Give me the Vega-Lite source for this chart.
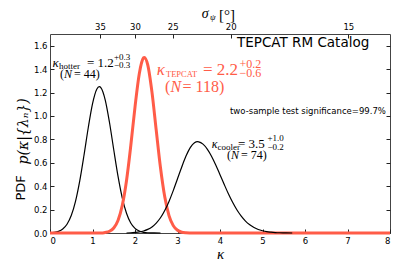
{
  "$schema": "https://vega.github.io/schema/vega-lite/v6.json",
  "width": 340,
  "height": 199,
  "autosize": {"type": "none"},
  "padding": {"left": 50, "top": 34, "right": 9, "bottom": 33},
  "background": "white",
  "config": {
    "view": {"stroke": "#444", "strokeWidth": 1},
    "axis": {"domain": false, "grid": false, "tickSize": -4, "tickColor": "#222", "tickWidth": 1, "labelFont": "DejaVu Sans", "labelFontSize": 8.5, "labelColor": "#000", "labelPadding": 7}
  },
  "datasets": {
    "curves": [
      {"s": "hotter", "k": 0, "p": 0.002}, {"s": "hotter", "k": 0.1, "p": 0.005}, {"s": "hotter", "k": 0.2, "p": 0.014}, {"s": "hotter", "k": 0.3, "p": 0.034}, {"s": "hotter", "k": 0.4, "p": 0.075}, {"s": "hotter", "k": 0.5, "p": 0.149}, {"s": "hotter", "k": 0.6, "p": 0.27}, {"s": "hotter", "k": 0.7, "p": 0.445}, {"s": "hotter", "k": 0.8, "p": 0.664}, {"s": "hotter", "k": 0.9, "p": 0.899}, {"s": "hotter", "k": 1.0, "p": 1.103}, {"s": "hotter", "k": 1.1, "p": 1.228}, {"s": "hotter", "k": 1.16, "p": 1.25}, {"s": "hotter", "k": 1.2, "p": 1.24}, {"s": "hotter", "k": 1.3, "p": 1.136}, {"s": "hotter", "k": 1.4, "p": 0.944}, {"s": "hotter", "k": 1.5, "p": 0.711}, {"s": "hotter", "k": 1.6, "p": 0.486}, {"s": "hotter", "k": 1.7, "p": 0.301}, {"s": "hotter", "k": 1.8, "p": 0.169}, {"s": "hotter", "k": 1.9, "p": 0.086}, {"s": "hotter", "k": 2.0, "p": 0.04}, {"s": "hotter", "k": 2.1, "p": 0.017}, {"s": "hotter", "k": 2.2, "p": 0.006}, {"s": "hotter", "k": 2.3, "p": 0.002}, {"s": "hotter", "k": 2.4, "p": 0.001}, {"s": "hotter", "k": 2.6, "p": 0},
      {"s": "TEPCAT", "k": 0, "p": 0}, {"s": "TEPCAT", "k": 1.2, "p": 0}, {"s": "TEPCAT", "k": 1.3, "p": 0.005}, {"s": "TEPCAT", "k": 1.4, "p": 0.015}, {"s": "TEPCAT", "k": 1.5, "p": 0.043}, {"s": "TEPCAT", "k": 1.6, "p": 0.107}, {"s": "TEPCAT", "k": 1.7, "p": 0.235}, {"s": "TEPCAT", "k": 1.8, "p": 0.447}, {"s": "TEPCAT", "k": 1.9, "p": 0.743}, {"s": "TEPCAT", "k": 2.0, "p": 1.076}, {"s": "TEPCAT", "k": 2.1, "p": 1.359}, {"s": "TEPCAT", "k": 2.2, "p": 1.496}, {"s": "TEPCAT", "k": 2.22, "p": 1.5}, {"s": "TEPCAT", "k": 2.3, "p": 1.436}, {"s": "TEPCAT", "k": 2.4, "p": 1.201}, {"s": "TEPCAT", "k": 2.5, "p": 0.876}, {"s": "TEPCAT", "k": 2.6, "p": 0.557}, {"s": "TEPCAT", "k": 2.7, "p": 0.309}, {"s": "TEPCAT", "k": 2.8, "p": 0.149}, {"s": "TEPCAT", "k": 2.9, "p": 0.063}, {"s": "TEPCAT", "k": 3.0, "p": 0.023}, {"s": "TEPCAT", "k": 3.1, "p": 0.007}, {"s": "TEPCAT", "k": 3.2, "p": 0.002}, {"s": "TEPCAT", "k": 3.3, "p": 0.0005}, {"s": "TEPCAT", "k": 3.4, "p": 0}, {"s": "TEPCAT", "k": 8, "p": 0},
      {"s": "cooler", "k": 1.8, "p": 0}, {"s": "cooler", "k": 1.9, "p": 0.002}, {"s": "cooler", "k": 2.0, "p": 0.005}, {"s": "cooler", "k": 2.1, "p": 0.009}, {"s": "cooler", "k": 2.2, "p": 0.017}, {"s": "cooler", "k": 2.3, "p": 0.031}, {"s": "cooler", "k": 2.4, "p": 0.052}, {"s": "cooler", "k": 2.5, "p": 0.085}, {"s": "cooler", "k": 2.6, "p": 0.13}, {"s": "cooler", "k": 2.7, "p": 0.192}, {"s": "cooler", "k": 2.8, "p": 0.27}, {"s": "cooler", "k": 2.9, "p": 0.362}, {"s": "cooler", "k": 3.0, "p": 0.463}, {"s": "cooler", "k": 3.1, "p": 0.564}, {"s": "cooler", "k": 3.2, "p": 0.657}, {"s": "cooler", "k": 3.3, "p": 0.729}, {"s": "cooler", "k": 3.4, "p": 0.771}, {"s": "cooler", "k": 3.47, "p": 0.78}, {"s": "cooler", "k": 3.5, "p": 0.779}, {"s": "cooler", "k": 3.6, "p": 0.759}, {"s": "cooler", "k": 3.7, "p": 0.717}, {"s": "cooler", "k": 3.8, "p": 0.656}, {"s": "cooler", "k": 3.9, "p": 0.581}, {"s": "cooler", "k": 4.0, "p": 0.498}, {"s": "cooler", "k": 4.1, "p": 0.414}, {"s": "cooler", "k": 4.2, "p": 0.333}, {"s": "cooler", "k": 4.3, "p": 0.26}, {"s": "cooler", "k": 4.4, "p": 0.196}, {"s": "cooler", "k": 4.5, "p": 0.144}, {"s": "cooler", "k": 4.6, "p": 0.102}, {"s": "cooler", "k": 4.7, "p": 0.07}, {"s": "cooler", "k": 4.8, "p": 0.047}, {"s": "cooler", "k": 4.9, "p": 0.03}, {"s": "cooler", "k": 5.0, "p": 0.019}, {"s": "cooler", "k": 5.1, "p": 0.011}, {"s": "cooler", "k": 5.2, "p": 0.007}, {"s": "cooler", "k": 5.3, "p": 0.004}, {"s": "cooler", "k": 5.4, "p": 0.002}, {"s": "cooler", "k": 5.5, "p": 0.001}, {"s": "cooler", "k": 5.7, "p": 0}
    ],
    "one": [{}]
  },
  "resolve": {"axis": {"x": "independent", "y": "independent"}},
  "layer": [
    {
      "data": {"name": "curves"},
      "transform": [{"filter": "datum.s === 'hotter'"}],
      "mark": {"type": "line", "color": "#000", "strokeWidth": 1.2, "interpolate": "monotone"},
      "encoding": {
        "x": {"field": "k", "type": "quantitative", "scale": {"domain": [0, 8], "nice": false},
          "axis": {"orient": "bottom", "values": [0, 1, 2, 3, 4, 5, 6, 7, 8], "format": "d", "title": "κ", "titleFont": "Liberation Serif", "titleFontStyle": "italic", "titleFontSize": 15, "titleFontWeight": "normal", "titleColor": "#000", "titleY": 25, "titleBaseline": "alphabetic"}},
        "y": {"field": "p", "type": "quantitative", "scale": {"domain": [0, 1.7], "nice": false},
          "axis": {"orient": "left", "values": [0, 0.2, 0.4, 0.6, 0.8, 1.0, 1.2, 1.4, 1.6], "format": ".1f", "title": null}}
      }
    },
    {
      "data": {"name": "curves"},
      "transform": [{"filter": "datum.s === 'TEPCAT'"}],
      "mark": {"type": "line", "color": "#ff5c48", "strokeWidth": 3, "interpolate": "monotone"},
      "encoding": {
        "x": {"field": "k", "type": "quantitative", "scale": {"domain": [0, 8], "nice": false},
          "axis": {"orient": "top", "values": [1.176, 2.0, 2.887, 4.252, 7.02], "labelExpr": "datum.value < 1.5 ? '35' : datum.value < 2.5 ? '30' : datum.value < 3.5 ? '25' : datum.value < 5 ? '20' : '15'", "title": null}},
        "y": {"field": "p", "type": "quantitative", "scale": {"domain": [0, 1.7], "nice": false},
          "axis": {"orient": "right", "values": [0, 0.2, 0.4, 0.6, 0.8, 1.0, 1.2, 1.4, 1.6], "labels": false, "title": null}}
      }
    },
    {
      "data": {"name": "curves"},
      "transform": [{"filter": "datum.s === 'cooler'"}],
      "mark": {"type": "line", "color": "#000", "strokeWidth": 1.2, "interpolate": "monotone"},
      "encoding": {
        "x": {"field": "k", "type": "quantitative", "scale": {"domain": [0, 8], "nice": false}, "axis": null},
        "y": {"field": "p", "type": "quantitative", "scale": {"domain": [0, 1.7], "nice": false}, "axis": null}
      }
    },
    {"data": {"name": "one"}, "mark": {"type": "text", "text": "κ", "font": "Liberation Serif", "fontStyle": "italic", "fontSize": 13, "align": "left", "baseline": "alphabetic", "color": "#000"},
     "encoding": {"x": {"datum": 0.059, "type": "quantitative", "scale": {"domain": [0, 8], "nice": false}, "axis": null}, "y": {"datum": 1.416, "type": "quantitative", "scale": {"domain": [0, 1.7], "nice": false}, "axis": null}}},
    {"data": {"name": "one"}, "mark": {"type": "text", "text": "hotter", "font": "Liberation Serif", "fontSize": 9, "align": "left", "baseline": "alphabetic", "color": "#000"},
     "encoding": {"x": {"datum": 0.212, "type": "quantitative", "scale": {"domain": [0, 8], "nice": false}, "axis": null}, "y": {"datum": 1.402, "type": "quantitative", "scale": {"domain": [0, 1.7], "nice": false}, "axis": null}}},
    {"data": {"name": "one"}, "mark": {"type": "text", "text": "= 1.2", "font": "Liberation Serif", "fontSize": 13, "align": "left", "baseline": "alphabetic", "color": "#000"},
     "encoding": {"x": {"datum": 0.871, "type": "quantitative", "scale": {"domain": [0, 8], "nice": false}, "axis": null}, "y": {"datum": 1.416, "type": "quantitative", "scale": {"domain": [0, 1.7], "nice": false}, "axis": null}}},
    {"data": {"name": "one"}, "mark": {"type": "text", "text": "+0.3", "font": "Liberation Serif", "fontSize": 9, "align": "left", "baseline": "alphabetic", "color": "#000"},
     "encoding": {"x": {"datum": 1.506, "type": "quantitative", "scale": {"domain": [0, 8], "nice": false}, "axis": null}, "y": {"datum": 1.479, "type": "quantitative", "scale": {"domain": [0, 1.7], "nice": false}, "axis": null}}},
    {"data": {"name": "one"}, "mark": {"type": "text", "text": "−0.3", "font": "Liberation Serif", "fontSize": 9, "align": "left", "baseline": "alphabetic", "color": "#000"},
     "encoding": {"x": {"datum": 1.506, "type": "quantitative", "scale": {"domain": [0, 8], "nice": false}, "axis": null}, "y": {"datum": 1.406, "type": "quantitative", "scale": {"domain": [0, 1.7], "nice": false}, "axis": null}}},
    {"data": {"name": "one"}, "mark": {"type": "text", "text": "(", "font": "Liberation Serif", "fontSize": 12, "align": "left", "baseline": "alphabetic", "color": "#000"},
     "encoding": {"x": {"datum": 0.235, "type": "quantitative", "scale": {"domain": [0, 8], "nice": false}, "axis": null}, "y": {"datum": 1.325, "type": "quantitative", "scale": {"domain": [0, 1.7], "nice": false}, "axis": null}}},
    {"data": {"name": "one"}, "mark": {"type": "text", "text": "N", "font": "Liberation Serif", "fontStyle": "italic", "fontSize": 12, "align": "left", "baseline": "alphabetic", "color": "#000"},
     "encoding": {"x": {"datum": 0.329, "type": "quantitative", "scale": {"domain": [0, 8], "nice": false}, "axis": null}, "y": {"datum": 1.325, "type": "quantitative", "scale": {"domain": [0, 1.7], "nice": false}, "axis": null}}},
    {"data": {"name": "one"}, "mark": {"type": "text", "text": "= 44)", "font": "Liberation Serif", "fontSize": 12, "align": "left", "baseline": "alphabetic", "color": "#000"},
     "encoding": {"x": {"datum": 0.565, "type": "quantitative", "scale": {"domain": [0, 8], "nice": false}, "axis": null}, "y": {"datum": 1.325, "type": "quantitative", "scale": {"domain": [0, 1.7], "nice": false}, "axis": null}}},
    {"data": {"name": "one"}, "mark": {"type": "text", "text": "κ", "font": "Liberation Serif", "fontStyle": "italic", "fontSize": 17, "align": "left", "baseline": "alphabetic", "color": "#ff5c48"},
     "encoding": {"x": {"datum": 2.511, "type": "quantitative", "scale": {"domain": [0, 8], "nice": false}, "axis": null}, "y": {"datum": 1.35, "type": "quantitative", "scale": {"domain": [0, 1.7], "nice": false}, "axis": null}}},
    {"data": {"name": "one"}, "mark": {"type": "text", "text": "TEPCAT", "font": "Liberation Serif", "fontSize": 8.5, "align": "left", "baseline": "alphabetic", "color": "#ff5c48"},
     "encoding": {"x": {"datum": 2.729, "type": "quantitative", "scale": {"domain": [0, 8], "nice": false}, "axis": null}, "y": {"datum": 1.329, "type": "quantitative", "scale": {"domain": [0, 1.7], "nice": false}, "axis": null}}},
    {"data": {"name": "one"}, "mark": {"type": "text", "text": "= 2.2", "font": "Liberation Serif", "fontSize": 17, "align": "left", "baseline": "alphabetic", "color": "#ff5c48"},
     "encoding": {"x": {"datum": 3.6, "type": "quantitative", "scale": {"domain": [0, 8], "nice": false}, "axis": null}, "y": {"datum": 1.35, "type": "quantitative", "scale": {"domain": [0, 1.7], "nice": false}, "axis": null}}},
    {"data": {"name": "one"}, "mark": {"type": "text", "text": "+0.2", "font": "Liberation Serif", "fontSize": 12, "align": "left", "baseline": "alphabetic", "color": "#ff5c48"},
     "encoding": {"x": {"datum": 4.459, "type": "quantitative", "scale": {"domain": [0, 8], "nice": false}, "axis": null}, "y": {"datum": 1.408, "type": "quantitative", "scale": {"domain": [0, 1.7], "nice": false}, "axis": null}}},
    {"data": {"name": "one"}, "mark": {"type": "text", "text": "−0.6", "font": "Liberation Serif", "fontSize": 12, "align": "left", "baseline": "alphabetic", "color": "#ff5c48"},
     "encoding": {"x": {"datum": 4.459, "type": "quantitative", "scale": {"domain": [0, 8], "nice": false}, "axis": null}, "y": {"datum": 1.333, "type": "quantitative", "scale": {"domain": [0, 1.7], "nice": false}, "axis": null}}},
    {"data": {"name": "one"}, "mark": {"type": "text", "text": "(", "font": "Liberation Serif", "fontSize": 16, "align": "left", "baseline": "alphabetic", "color": "#ff5c48"},
     "encoding": {"x": {"datum": 2.706, "type": "quantitative", "scale": {"domain": [0, 8], "nice": false}, "axis": null}, "y": {"datum": 1.205, "type": "quantitative", "scale": {"domain": [0, 1.7], "nice": false}, "axis": null}}},
    {"data": {"name": "one"}, "mark": {"type": "text", "text": "N", "font": "Liberation Serif", "fontStyle": "italic", "fontSize": 16, "align": "left", "baseline": "alphabetic", "color": "#ff5c48"},
     "encoding": {"x": {"datum": 2.835, "type": "quantitative", "scale": {"domain": [0, 8], "nice": false}, "axis": null}, "y": {"datum": 1.205, "type": "quantitative", "scale": {"domain": [0, 1.7], "nice": false}, "axis": null}}},
    {"data": {"name": "one"}, "mark": {"type": "text", "text": "= 118)", "font": "Liberation Serif", "fontSize": 16, "align": "left", "baseline": "alphabetic", "color": "#ff5c48"},
     "encoding": {"x": {"datum": 3.118, "type": "quantitative", "scale": {"domain": [0, 8], "nice": false}, "axis": null}, "y": {"datum": 1.205, "type": "quantitative", "scale": {"domain": [0, 1.7], "nice": false}, "axis": null}}},
    {"data": {"name": "one"}, "mark": {"type": "text", "text": "κ", "font": "Liberation Serif", "fontStyle": "italic", "fontSize": 12, "align": "left", "baseline": "alphabetic", "color": "#000"},
     "encoding": {"x": {"datum": 3.805, "type": "quantitative", "scale": {"domain": [0, 8], "nice": false}, "axis": null}, "y": {"datum": 0.724, "type": "quantitative", "scale": {"domain": [0, 1.7], "nice": false}, "axis": null}}},
    {"data": {"name": "one"}, "mark": {"type": "text", "text": "cooler", "font": "Liberation Serif", "fontSize": 9, "align": "left", "baseline": "alphabetic", "color": "#000"},
     "encoding": {"x": {"datum": 3.941, "type": "quantitative", "scale": {"domain": [0, 8], "nice": false}, "axis": null}, "y": {"datum": 0.709, "type": "quantitative", "scale": {"domain": [0, 1.7], "nice": false}, "axis": null}}},
    {"data": {"name": "one"}, "mark": {"type": "text", "text": "= 3.5", "font": "Liberation Serif", "fontSize": 13, "align": "left", "baseline": "alphabetic", "color": "#000"},
     "encoding": {"x": {"datum": 4.424, "type": "quantitative", "scale": {"domain": [0, 8], "nice": false}, "axis": null}, "y": {"datum": 0.724, "type": "quantitative", "scale": {"domain": [0, 1.7], "nice": false}, "axis": null}}},
    {"data": {"name": "one"}, "mark": {"type": "text", "text": "+1.0", "font": "Liberation Serif", "fontSize": 9, "align": "left", "baseline": "alphabetic", "color": "#000"},
     "encoding": {"x": {"datum": 5.118, "type": "quantitative", "scale": {"domain": [0, 8], "nice": false}, "axis": null}, "y": {"datum": 0.782, "type": "quantitative", "scale": {"domain": [0, 1.7], "nice": false}, "axis": null}}},
    {"data": {"name": "one"}, "mark": {"type": "text", "text": "−0.2", "font": "Liberation Serif", "fontSize": 9, "align": "left", "baseline": "alphabetic", "color": "#000"},
     "encoding": {"x": {"datum": 5.118, "type": "quantitative", "scale": {"domain": [0, 8], "nice": false}, "axis": null}, "y": {"datum": 0.711, "type": "quantitative", "scale": {"domain": [0, 1.7], "nice": false}, "axis": null}}},
    {"data": {"name": "one"}, "mark": {"type": "text", "text": "(", "font": "Liberation Serif", "fontSize": 12, "align": "left", "baseline": "alphabetic", "color": "#000"},
     "encoding": {"x": {"datum": 4.165, "type": "quantitative", "scale": {"domain": [0, 8], "nice": false}, "axis": null}, "y": {"datum": 0.628, "type": "quantitative", "scale": {"domain": [0, 1.7], "nice": false}, "axis": null}}},
    {"data": {"name": "one"}, "mark": {"type": "text", "text": "N", "font": "Liberation Serif", "fontStyle": "italic", "fontSize": 12, "align": "left", "baseline": "alphabetic", "color": "#000"},
     "encoding": {"x": {"datum": 4.259, "type": "quantitative", "scale": {"domain": [0, 8], "nice": false}, "axis": null}, "y": {"datum": 0.628, "type": "quantitative", "scale": {"domain": [0, 1.7], "nice": false}, "axis": null}}},
    {"data": {"name": "one"}, "mark": {"type": "text", "text": "= 74)", "font": "Liberation Serif", "fontSize": 12, "align": "left", "baseline": "alphabetic", "color": "#000"},
     "encoding": {"x": {"datum": 4.494, "type": "quantitative", "scale": {"domain": [0, 8], "nice": false}, "axis": null}, "y": {"datum": 0.628, "type": "quantitative", "scale": {"domain": [0, 1.7], "nice": false}, "axis": null}}},
    {"data": {"name": "one"}, "mark": {"type": "text", "text": "TEPCAT RM Catalog", "font": "DejaVu Sans", "fontSize": 13.5, "align": "left", "baseline": "alphabetic", "color": "#000"},
     "encoding": {"x": {"datum": 4.4, "type": "quantitative", "scale": {"domain": [0, 8], "nice": false}, "axis": null}, "y": {"datum": 1.59, "type": "quantitative", "scale": {"domain": [0, 1.7], "nice": false}, "axis": null}}},
    {"data": {"name": "one"}, "mark": {"type": "text", "text": "two-sample test significance=99.7%", "font": "DejaVu Sans", "fontSize": 8.5, "align": "left", "baseline": "alphabetic", "color": "#000"},
     "encoding": {"x": {"datum": 4.235, "type": "quantitative", "scale": {"domain": [0, 8], "nice": false}, "axis": null}, "y": {"datum": 1.017, "type": "quantitative", "scale": {"domain": [0, 1.7], "nice": false}, "axis": null}}},
    {"data": {"name": "one"}, "mark": {"type": "text", "text": "PDF", "font": "DejaVu Sans", "fontSize": 13, "angle": 270, "align": "center", "baseline": "middle", "color": "#000"},
     "encoding": {"x": {"datum": -0.682, "type": "quantitative", "scale": {"domain": [0, 8], "nice": false}, "axis": null}, "y": {"datum": 0.385, "type": "quantitative", "scale": {"domain": [0, 1.7], "nice": false}, "axis": null}}},
    {"data": {"name": "one"}, "mark": {"type": "text", "text": "p(κ|{λₙ})", "font": "DejaVu Serif", "fontStyle": "italic", "fontSize": 14, "angle": 270, "align": "center", "baseline": "middle", "color": "#000"},
     "encoding": {"x": {"datum": -0.612, "type": "quantitative", "scale": {"domain": [0, 8], "nice": false}, "axis": null}, "y": {"datum": 0.868, "type": "quantitative", "scale": {"domain": [0, 1.7], "nice": false}, "axis": null}}},
    {"data": {"name": "one"}, "mark": {"type": "text", "text": "σ", "font": "Liberation Serif", "fontStyle": "italic", "fontSize": 14, "align": "left", "baseline": "alphabetic", "color": "#000"},
     "encoding": {"x": {"datum": 3.569, "type": "quantitative", "scale": {"domain": [0, 8], "nice": false}, "axis": null}, "y": {"datum": 1.838, "type": "quantitative", "scale": {"domain": [0, 1.7], "nice": false}, "axis": null}}},
    {"data": {"name": "one"}, "mark": {"type": "text", "text": "ψ", "font": "Liberation Serif", "fontStyle": "italic", "fontSize": 9, "align": "left", "baseline": "alphabetic", "color": "#000"},
     "encoding": {"x": {"datum": 3.765, "type": "quantitative", "scale": {"domain": [0, 8], "nice": false}, "axis": null}, "y": {"datum": 1.816, "type": "quantitative", "scale": {"domain": [0, 1.7], "nice": false}, "axis": null}}},
    {"data": {"name": "one"}, "mark": {"type": "text", "text": "[°]", "font": "Liberation Serif", "fontSize": 15, "align": "left", "baseline": "alphabetic", "color": "#000"},
     "encoding": {"x": {"datum": 3.976, "type": "quantitative", "scale": {"domain": [0, 8], "nice": false}, "axis": null}, "y": {"datum": 1.821, "type": "quantitative", "scale": {"domain": [0, 1.7], "nice": false}, "axis": null}}}
  ]
}
